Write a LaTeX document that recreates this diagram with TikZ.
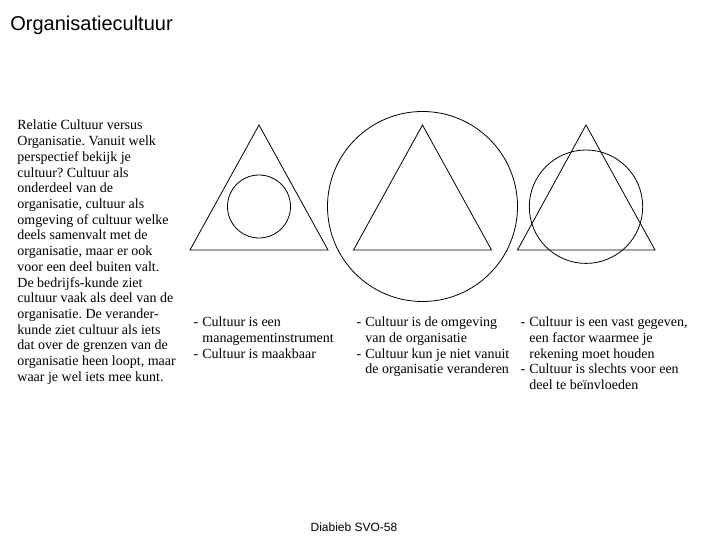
\documentclass[tikz,border=0pt]{standalone}
\usepackage{fontspec}
\setmainfont{Liberation Serif}
\newfontfamily\sansfont{Liberation Sans}
\newcommand{\dashitem}{\llap{-\hspace{4pt}}}
\frenchspacing

\begin{document}
\begin{tikzpicture}[x=1pt, y=-1pt, line width=0.8pt,
	txt/.style={anchor=base west, inner sep=0pt, font=\fontsize{14}{16}\selectfont}]

		\useasboundingbox (0,0) rectangle (720,540);

		\node[anchor=base west, inner sep=0pt, font=\sansfont\fontsize{20}{24}\selectfont] (title) at (10,31) {Organisatiecultuur};
		\node[anchor=base, inner sep=0pt, font=\sansfont\fontsize{12}{14}\selectfont] (footer) at (354,531) {Diabieb SVO-58};

		% triangle with circle inside
		\draw (259,125) -- (190,250) -- (328,250) -- cycle;
		\draw (259,206.5) circle (31.5pt);

		% triangle inside circle
		\draw (422.5,125) -- (353.5,250) -- (491.5,250) -- cycle;
		\draw (422.5,206.5) circle (95pt);

		% triangle and circle overlapping
		\draw (586,125) -- (517.5,250) -- (655,250) -- cycle;
		\draw (586,206.7) circle (56.7pt);

		\foreach \t [count=\i] in {Relatie Cultuur versus, Organisatie. Vanuit welk,
			perspectief bekijk je, cultuur? Cultuur als, onderdeel van de,
			{organisatie, cultuur als}, omgeving of cultuur welke, deels samenvalt met de,
			{organisatie, maar er ook}, voor een deel buiten valt., De bedrijfs-kunde ziet,
			cultuur vaak als deel van de, organisatie. De verander-, kunde ziet cultuur als iets,
			dat over de grenzen van de, {organisatie heen loopt, maar}, waar je wel iets mee kunt.}
			\node[txt] (rel-\i) at (17,{130+15.7*(\i-1)}) {\t};

		\foreach \t [count=\i] in {\dashitem Cultuur is een, managementinstrument,
			\dashitem Cultuur is maakbaar}
			\node[txt] (c1-\i) at (202,{326.5+15.8*(\i-1)}) {\t};

		\foreach \t [count=\i] in {\dashitem Cultuur is de omgeving, van de organisatie,
			\dashitem Cultuur kun je niet vanuit, de organisatie veranderen}
			\node[txt] (c2-\i) at (365,{326.5+15.8*(\i-1)}) {\t};

		\foreach \t [count=\i] in {{\dashitem Cultuur is een vast gegeven,}, een factor waarmee je,
			rekening moet houden, \dashitem Cultuur is slechts voor een, deel te beïnvloeden}
			\node[txt] (c3-\i) at (529,{326.5+15.8*(\i-1)}) {\t};

	\end{tikzpicture}
\end{document}
